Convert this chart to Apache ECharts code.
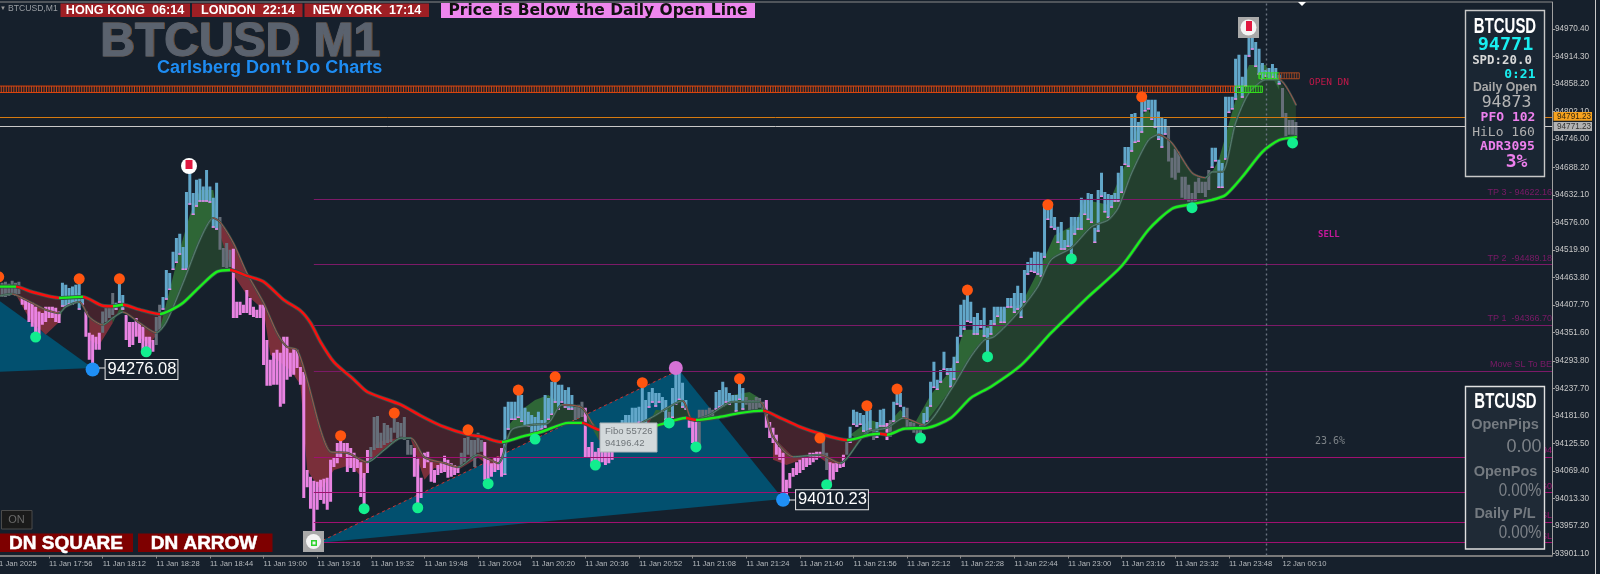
<!DOCTYPE html>
<html><head><meta charset="utf-8">
<style>html,body{margin:0;padding:0;background:#16202c}#c{width:1600px;height:574px}</style>
<script src="https://cdn.jsdelivr.net/npm/echarts@6/dist/echarts.min.js"></script>
</head><body><div id="c"></div>
<script>
const BASE = 94000;
const timeLabels = ["11 Jan 2025","11 Jan 17:56","11 Jan 18:12","11 Jan 18:28","11 Jan 18:44","11 Jan 19:00","11 Jan 19:16","11 Jan 19:32","11 Jan 19:48","11 Jan 20:04","11 Jan 20:20","11 Jan 20:36","11 Jan 20:52","11 Jan 21:08","11 Jan 21:24","11 Jan 21:40","11 Jan 21:56","11 Jan 22:12","11 Jan 22:28","11 Jan 22:44","11 Jan 23:00","11 Jan 23:16","11 Jan 23:32","11 Jan 23:48","12 Jan 00:10"];
const priceTicks = [94970.40,94914.30,94858.20,94802.10,94746.00,94688.20,94632.10,94576.00,94519.90,94463.80,94407.70,94351.60,94293.80,94237.70,94181.60,94125.50,94069.40,94013.30,93957.20,93901.10];
const barStart = 2;
const barHighs = [453,455,451,457,453,455,422,418,414,412,
404,394,391,404,404,404,402,394,453,449,
442,445,449,459,424,394,351,347,343,351,
394,404,404,432,412,459,428,387,373,373,
381,371,363,343,343,336,383,408,424,479,
473,516,544,553,526,638,689,636,663,665,
649,683,649,626,657,587,524,534,520,522,
414,414,408,438,422,404,398,408,408,336,
296,310,316,310,343,343,310,320,316,281,
271,71,57,49,47,51,53,55,92,96,
126,139,126,126,116,106,96,87,65,112,
118,179,181,147,167,163,157,187,169,167,
179,132,122,116,94,55,106,108,87,71,
81,87,100,92,85,81,77,106,136,139,
132,132,147,132,128,92,85,96,98,116,
200,210,210,210,224,224,198,190,183,179,
190,173,224,218,251,259,245,245,234,240,
224,200,204,210,198,118,128,108,116,132,
132,132,153,163,163,173,183,183,198,198,
200,238,214,230,238,228,228,220,214,190,
238,271,269,249,214,173,173,169,194,194,
194,198,194,230,234,251,240,228,224,224,
255,238,220,214,214,220,218,210,214,169,
157,143,118,106,51,65,75,87,92,96,
96,106,106,108,108,136,106,87,85,87,
87,102,128,159,194,190,187,183,200,194,
153,169,194,196,167,173,210,234,228,200,
198,169,167,157,163,187,200,251,292,255,
275,312,279,279,302,343,408,418,434,414,
383,391,377,402,361,377,404,404,404,404,
422,422,432,447,432,479,495,504,516,516,
514,612,608,608,587,567,577,540,561,587,
587,587,626,622,636,634,565,642,677,638,
634,632,636,677,691,730,730,797,799,781,
830,828,826,826,826,802,789,787,771,708,
726,720,669,669,653,636,659,667,659,659,
683,728,728,704,697,832,832,832,910,918,
873,918,973,969,944,930,901,887,891,899,
891,877,850,799,785,785,781];
const barLows = [424,424,426,428,426,430,408,398,373,363,
343,347,367,373,381,381,373,371,404,404,
408,408,412,398,408,343,296,275,316,316,
351,373,381,387,398,412,398,336,322,326,
343,330,316,306,316,312,326,357,398,418,
438,479,493,510,479,479,612,591,608,618,
618,618,616,565,561,520,485,483,485,381,
381,387,391,391,387,383,381,381,285,243,
243,245,245,200,206,255,261,265,279,245,
14,36,-8,-57,-10,10,2,-10,6,77,
85,96,106,67,75,67,75,16,0,65,
92,112,116,116,122,126,128,147,136,139,
132,102,102,57,-4,14,75,87,47,45,
61,65,67,55,57,61,65,81,87,102,
96,77,106,108,51,51,57,67,71,57,
61,153,173,173,177,169,159,159,143,139,
149,153,157,173,183,208,194,208,198,194,
194,173,177,179,96,96,81,75,85,87,
81,85,92,122,132,132,153,153,163,157,
167,167,163,198,208,200,208,190,173,163,
177,204,214,198,194,157,126,116,118,173,
173,177,177,194,198,200,208,204,208,190,
214,194,204,190,194,194,198,190,157,136,
126,102,92,10,16,34,57,61,65,71,
77,81,87,92,98,98,71,41,51,67,
75,77,102,126,163,159,163,149,139,153,
132,136,159,159,132,139,169,204,200,177,
157,153,147,136,143,153,169,200,238,234,
249,275,265,240,255,289,343,357,373,371,
347,347,361,343,302,347,367,383,371,371,
402,402,391,398,381,412,469,475,473,469,
465,504,581,565,561,534,520,520,526,510,
551,561,561,591,581,575,534,557,628,596,
585,606,618,618,636,693,689,720,738,740,
759,802,806,785,769,744,728,755,700,667,
663,677,626,622,618,618,618,636,636,628,
642,687,700,646,646,704,799,806,826,850,
830,853,914,928,893,877,867,873,867,871,
867,857,791,751,755,755,751];
const barKindRuns = [["g",6],["p",12],["b",7],["p",5],["g",4],["b",3],["p",9],["g",2],["b",17],["g",4],["p",41],["g",13],["p",14],["g",7],["p",6],["b",21],["g",3],["p",10],["b",15],["g",1],["b",5],["p",3],["g",5],["b",9],["g",6],["p",17],["g",2],["p",5],["g",1],["b",7],["g",1],["b",3],["p",1],["g",1],["b",4],["g",5],["b",73],["g",13],["b",21],["g",5]];
const slowMA = [[0,445],[6,445],[11,434],[19,422],[26,424],[32,406],[35,405],[38,408],[43,398],[49,389],[52,396],[56,412],[61,445],[66,475],[70,479],[75,467],[80,455],[86,418],[91,396],[94,371],[97,332],[101,291],[107,255],[111,230],[121,204],[127,181],[133,161],[141,143],[145,139],[151,128],[157,139],[163,149],[171,167],[175,167],[180,153],[187,150],[197,161],[206,177],[209,173],[216,179],[222,187],[229,192],[233,181],[240,159],[246,145],[254,132],[261,143],[264,145],[266,143],[271,155],[278,157],[285,177],[291,218],[297,241],[306,285],[315,351],[321,391],[326,424],[336,487],[344,561],[351,604],[356,612],[363,622],[367,632],[372,669],[378,720],[383,744],[388,750]];
const fastMA = [[0,424],[5,430],[8,422],[12,408],[15,398],[19,391],[21,404],[25,414],[28,383],[32,367],[35,381],[38,393],[43,371],[48,351],[51,373],[56,453],[61,540],[65,585],[67,577],[71,534],[75,473],[80,412],[84,351],[87,322],[90,316],[93,255],[97,153],[100,108],[105,106],[111,87],[116,112],[121,136],[124,136],[128,97],[134,85],[138,77],[144,102],[150,85],[154,153],[160,163],[165,167],[169,204],[175,198],[180,153],[190,159],[196,179],[205,212],[208,173],[213,183],[220,210],[228,210],[232,139],[238,98],[246,102],[252,85],[258,132],[260,149],[266,157],[271,177],[277,163],[285,234],[291,302],[295,336],[298,343],[305,391],[311,445],[315,500],[321,524],[327,567],[332,581],[335,606],[339,677],[344,744],[347,755],[351,738],[357,677],[361,667],[363,679],[366,679],[370,779],[374,840],[379,867],[383,867],[388,816]];
const bandMA = [[0,426],[6,430],[10,381],[15,347],[19,373],[21,418],[25,434],[28,336],[31,326],[35,371],[38,414],[42,347],[46,326],[49,357],[52,438],[55,520],[58,591],[61,642],[65,642],[67,551],[71,469],[75,428],[80,398],[82,306],[88,275],[91,245],[93,71],[97,30],[101,71],[106,81],[110,51],[113,122],[116,132],[121,136],[124,132],[128,51],[131,75],[134,71],[138,71],[144,96],[147,81],[150,71],[152,153],[157,194],[161,214],[165,224],[169,204],[175,194],[180,132],[190,108],[197,194],[201,190],[205,224],[208,153],[213,183],[220,224],[225,230],[228,218],[232,92],[236,81],[243,98],[246,96],[249,81],[252,87],[255,143],[261,173],[266,163],[270,194],[274,163],[279,224],[285,275],[289,357],[295,357],[300,398],[306,408],[312,489],[316,550],[322,571],[325,622],[332,612],[337,693],[342,795],[344,806],[349,755],[353,683],[358,683],[362,693],[365,704],[370,826],[374,897],[379,897],[383,846],[388,785]];
const outerZones = [[0,52,"r"],[52,75,"g"],[75,154,"r"],[151,180,"g"],[180,230,"g"],[229,258,"r"],[254,388,"g"]];
const innerZones = [[6,20,"r"],[19,27,"g"],[27,36,"r"],[35,41,"g"],[40,50,"r"],[49,68,"g"],[67,121,"r"],[124,151,"r"],[151,180,"g"],[180,196,"r"],[195,208,"g"],[213,229,"g"],[229,255,"r"],[255,347,"g"],[363,384,"g"]];
const fiboTriangles = [[[0,422],[29,279],[0,271]],[[96,-78],[204,275],[235,12]]];
const fiboEdge = [[96,-78],[204,275]];
const dotsOrange = [[1,465],[25,461],[37,461],[103,141],[119,187],[141,153],[156,234],[167,261],[193,249],[222,257],[246,136],[260,202],[269,236],[290,438],[314,612],[342,832]];
const dotsGreen = [[12,342],[45,312],[110,-8],[126,-6],[147,43],[161,134],[179,81],[201,167],[209,118],[248,41],[276,136],[296,302],[321,502],[357,606],[387,738]];
const dotsBlue = [[29,276.08],[235,10.23]];
const dotPink = [[203,279]];
const levelLines = [[623,"TP 3 - 94622.16","#7c1a68"],[490,"TP 2  -94489.18","#7c1a68"],[367,"TP 1  -94366.70","#7c1a68"],[273,"Move SL To BE","#7c1a68"],[97,"94","#a01070"],[25,"G0","#a01070"],[-36,"SL","#a01070"],[-77,"SL","#a01070"]];
const openZones = [[1,370,854,841,"#e2480f"],[370,378,854,841,"#35e01c"],[377,383,881,869,"#35e01c"],[383,389,881,869,"#a84a22"]];
const dailyOpenOrange = 94791.23, bidPrice = 94771.23;

const C = {b:"#62a7ca",p:"#e983e2",g:"#666e79"};
const kinds = [];
barKindRuns.forEach(r=>{for(let n=0;n<r[1];n++)kinds.push(r[0]);});
const barData = barHighs.map((h,n)=>[n+barStart,h+BASE,barLows[n]+BASE,n]);
const withBase = a=>a.map(k=>[k[0],k[1]+BASE]);

const series = [], visualMaps = [];
function maLine(knots,up,down,width,z){
  const pieces=[];
  knots.slice(0,-1).forEach((k,n)=>{
    const color=knots[n+1][1]>=k[1]?up:down, last=pieces[pieces.length-1];
    if(last&&last.color===color)last.lt=knots[n+1][0];
    else pieces.push({gte:k[0],lt:knots[n+1][0],color});
  });
  pieces[pieces.length-1].lt=knots[knots.length-1][0]+1;
  if(up!==down)visualMaps.push({show:false,type:"piecewise",dimension:0,seriesIndex:series.length,pieces});
  const lineStyle={width,cap:"round",join:"round"};
  if(up===down)lineStyle.color=up;
  series.push({type:"line",z,data:withBase(knots),smooth:0.25,symbol:"none",silent:true,animation:false,lineStyle});
}
function zoneSeries(upper,lower,zones,colG,colR,z){
  return {type:"custom",z,clip:true,silent:true,animation:false,encode:{x:0,y:1},
    data:zones.map((o,n)=>[o[0],BASE+500,n]),
    renderItem:(p,api)=>{
      const o=zones[api.value(2)];
      const s=k=>k[0]>=o[0]&&k[0]<=o[1];
      const pts=upper.filter(s).concat(lower.filter(s).reverse()).map(k=>api.coord([k[0],k[1]+BASE]));
      return {type:"polygon",shape:{points:pts},style:{fill:o[2]==="g"?colG:colR,stroke:null}};
    }};
}
// fibo triangles
series.push({type:"custom",z:1,clip:true,silent:true,animation:false,encode:{x:0,y:1},
  data:fiboTriangles.map((t,n)=>[t[0][0],t[0][1]+BASE,n]),
  renderItem:(p,api)=>({type:"polygon",shape:{points:fiboTriangles[api.value(2)].map(k=>api.coord([k[0],k[1]+BASE]))},style:{fill:"#02506f"}})});
series.push(zoneSeries(slowMA,fastMA,outerZones,"#233f2e","#43232d",2));
series.push(zoneSeries(fastMA,bandMA,innerZones,"#2e6636","#7a2f3a",2.5));
// levels
series.push({type:"line",z:3,data:[],silent:true,animation:false,
  markLine:{silent:true,symbol:"none",animation:false,precision:2,
    data:levelLines.map(l=>[
      {coord:[95,l[0]+BASE],lineStyle:{color:l[2],width:1.2,type:"solid"},
       label:{formatter:l[1],position:"insideEndTop",distance:[0,2],color:l[2],fontFamily:"Liberation Sans",fontSize:9}},
      {coord:[464.4,l[0]+BASE]}])
    .concat([
      [{coord:[0,dailyOpenOrange],lineStyle:{color:"#d67a10",width:1,type:"solid"},label:{show:false}},{coord:[464.4,dailyOpenOrange]}],
      [{coord:[0,bidPrice],lineStyle:{color:"#c8c8c8",width:1,type:"solid"},label:{show:false}},{coord:[464.4,bidPrice]}],
      [{coord:[379,93896.6],lineStyle:{color:"#6b7480",width:1.4,type:[2,3]},label:{show:false}},{coord:[379,95025.5]}]
    ])}});
// dashed fibo edge
series.push({type:"line",z:3,data:withBase(fiboEdge),symbol:"none",silent:true,animation:false,lineStyle:{color:"#c93434",width:1,type:[3,3]}});
// bars
series.push({type:"custom",z:4,clip:true,silent:true,animation:false,encode:{x:0,y:[1,2]},data:barData,
  renderItem:(p,api)=>{
    const hi=api.coord([api.value(0),api.value(1)]),lo=api.coord([api.value(0),api.value(2)]);
    const k=kinds[api.value(3)],w=3;
    const ch=[{type:"rect",shape:{x:hi[0]-w/2,y:hi[1],width:w,height:lo[1]-hi[1]},style:{fill:C[k]}}];
    if(k==="b")ch.push({type:"rect",shape:{x:hi[0]-w/2,y:lo[1]-1.5,width:w,height:1.5},style:{fill:C.p}});
    return {type:"group",children:ch};
  }});
// moving averages
maLine(fastMA,"#37564a","#37564a",2.2,5);
maLine(fastMA,"#5c8474","#b2514c",0.9,5.1);
maLine(slowMA,"#33504a","#33504a",4,6);
maLine(slowMA,"#1cf01c","#fa0f0f",2.4,6.1);
// open zones
series.push({type:"custom",z:6.5,clip:true,silent:true,animation:false,encode:{x:0,y:2},
  data:openZones.map((o,n)=>[o[0],o[1],o[2]+BASE,o[3]+BASE,n]),
  renderItem:(p,api)=>{
    const a=api.value(0),b=api.value(1),c=openZones[api.value(4)][4];
    const t=api.value(2),d=api.value(3),ch=[];
    const A=api.coord([a,t]),B=api.coord([b,d]);
    ch.push({type:"rect",shape:{x:A[0],y:A[1],width:B[0]-A[0],height:B[1]-A[1]},style:{fill:"none",stroke:c,lineWidth:1}});
    for(let v=a;v<b;v+=0.75){const q=api.coord([v,t]),r=api.coord([v,d]);
      ch.push({type:"line",shape:{x1:q[0],y1:q[1],x2:r[0],y2:r[1]},style:{stroke:c,lineWidth:0.9}});}
    return {type:"group",children:ch};
  }});
// dots
const dots=(d,color,size)=>({type:"scatter",z:7,data:withBase(d),symbolSize:size,silent:true,animation:false,itemStyle:{color,opacity:1}});
series.push(dots(dotsOrange,"#ff5510",11));
series.push(dots(dotsGreen,"#12ee8e",11));
series.push(dots(dotPink,"#d572d5",14));
series.push({type:"scatter",z:7,data:withBase(dotsBlue),symbolSize:14,silent:true,animation:false,itemStyle:{color:"#1f8ff5",opacity:1},
  label:{show:true,position:"right",distance:6,color:"#fff",fontFamily:"Liberation Sans",fontSize:16.5,backgroundColor:"#16202c",borderColor:"#e8e8e8",borderWidth:1,padding:[1,1,1,2],
    formatter:p=>p.value[1].toFixed(2)}});

const T=(text,x,y,font,fill,align,sx,extra)=>({type:"text",z:120,silent:true,x,y,scaleX:sx||1,
  style:Object.assign({text,x:0,y:0,font,fill,textAlign:align||"left",textVerticalAlign:"middle"},extra||{})});
const R=(x,y,w,h,fill,stroke,lw,z)=>({type:"rect",z:z||110,silent:true,shape:{x,y,width:w,height:h},style:{fill,stroke:stroke||null,lineWidth:lw||0}});
const Ci=(cx,cy,r,fill)=>({type:"circle",z:115,silent:true,shape:{cx,cy,r},style:{fill}});
const Li=(x1,y1,x2,y2,stroke,lw)=>({type:"line",z:105,silent:true,shape:{x1,y1,x2,y2},style:{stroke,lineWidth:lw||1}});
const mono='"DejaVu Sans Mono"', ari='"Liberation Sans"';
const tickFont="8.2px "+ari;
const g=[
 Li(0,2,1552,2,"#8a8a8a",1),
 T("▼",0,8,"6px "+ari,"#9a9a9a"),
 T("BTCUSD,M1",8,8.5,"8.6px "+ari,"#9a9ea3"),
 R(60.5,3.5,129.5,13.5,"#9e1f24"),R(192,3.5,110.5,13.5,"#9e1f24"),R(304.5,3.5,124.5,13.5,"#9e1f24"),
 T("HONG KONG  06:14",125,10.5,"bold 12.6px "+ari,"#fff","center"),
 T("LONDON  22:14",248,10.5,"bold 12.6px "+ari,"#fff","center"),
 T("NEW YORK  17:14",367,10.5,"bold 12.6px "+ari,"#fff","center"),
 R(441,3,314,15,"#ee86ee"),
 T("Price is Below the Daily Open Line",598,10.5,"bold 15.5px \"DejaVu Sans\"","#111","center"),
 T("BTCUSD M1",101,43.2,"bold 48px "+ari,"#6a4a30","left",1,{stroke:"#6a4a30",lineWidth:1}),
 T("BTCUSD M1",100,42.5,"bold 48px "+ari,"#5a626e","left",1,{stroke:"#5a626e",lineWidth:1}),
 T("Carlsberg Don't Do Charts",157,68,"bold 18px "+ari,"#1e8cf2"),
 T("OPEN DN",1309,82.5,"9.5px "+mono,"#c2184a"),
 T("SELL",1318,234.5,"bold 9px "+mono,"#c5189a"),
 T("23.6%",1315,441,"10px "+mono,"#7d8388"),
 R(1.5,510.5,30.5,18.5,"#1a1a1a","#4a4a4a",1),
 T("ON",16.5,520,"11px "+ari,"#6a6a6a","center"),
 R(0,533.5,133,18.5,"#7e0000"),R(138,533.5,134.5,18.5,"#7e0000"),
 T("DN SQUARE",66,543.5,"bold 19px "+ari,"#fff","center","",{stroke:"#fff",lineWidth:0.5}),
 T("DN ARROW",204,543.5,"bold 19px "+ari,"#fff","center","",{stroke:"#fff",lineWidth:0.5}),
 // fibo info box
 R(600,423,57,29,"#d3d9db","#aab2b6",1),
 T("Fibo 55726",605,431,"9.5px "+ari,"#6f7579"),
 T("94196.42",605,443,"9.5px "+ari,"#6f7579"),
 // connector lines from swing dots to their labels
 Li(99,368,105,368,"#e8e8e8",1),Li(789,500,795,500,"#e8e8e8",1),
 // icons
 Ci(189,166,8,"#fff"),R(185.5,160,7,9,"#e01840",null,0,118),
 R(303,531,21,21,"#a9a9a9"),Ci(313.5,541.5,7.5,"#f3f3f3"),R(311,540,6,6,"#2dd12d",null,0,118),R(312.5,541.5,3,3,"#f3f3f3",null,0,119),
 R(1238,17,21,21,"#a9a9a9"),Ci(1248.5,27.5,8,"#f5f5f5"),R(1246,21,6,10,"#e01840",null,0,118),
 {type:"polygon",z:115,silent:true,shape:{points:[[1298,2],[1306,2],[1302,6]]},style:{fill:"#fff"}},
 // price tags
 R(1553.5,112,38.5,8.8,"#f5a11e"),T("94791.23",1557,116.5,tickFont,"#33260f"),
 R(1553.5,122,38.5,9,"#b2b2b2"),T("94771.23",1557,126.5,tickFont,"#333"),
 Li(1595.5,0,1595.5,574,"#c8c8c8",1),
 // panel 1
 R(1465.5,10.5,79,166,"#1a2633","#c8c8c8",1.4),
 T("BTCUSD",1505,27,"bold 22px "+ari,"#fff","center",0.68),
 T("94771",1505.5,45.5,"bold 18.5px "+mono,"#19eef0","center"),
 T("SPD:20.0",1502,61,"bold 12.4px "+mono,"#d8d8d8","center"),
 T("0:21",1535.5,75,"bold 13px "+mono,"#19eef0","right"),
 T("Daily Open",1505,88,"bold 12.3px "+ari,"#a8a8a8","center"),
 T("94873",1506.5,102.5,"16.5px "+mono,"#b5b5b5","center"),
 T("PFO 102",1508,118,"bold 13px "+mono,"#ee80ee","center"),
 T("HiLo 160",1503.5,132.5,"13px "+mono,"#b0b0b0","center"),
 T("ADR3095",1507.5,147,"bold 13px "+mono,"#ee80ee","center"),
 T("3%",1516.5,162.5,"bold 18px "+mono,"#ee80ee","center"),
 // panel 2
 R(1465.5,386.5,79,162.5,"#1f2a36","#e0e0e0",1.4),
 T("BTCUSD",1505.5,402,"bold 22px "+ari,"#fff","center",0.68),
 T("OpenPips",1505,425,"bold 14.5px "+ari,"#747a80","center"),
 T("0.00",1541.5,447,"18px "+ari,"#7d8288","right"),
 T("OpenPos",1505.5,472,"bold 14.5px "+ari,"#747a80","center"),
 T("0.00%",1541.5,491,"18px "+ari,"#7d8288","right",0.84),
 T("Daily P/L",1505,514,"bold 14.5px "+ari,"#747a80","center"),
 T("0.00%",1541.5,533,"18px "+ari,"#7d8288","right",0.84),
];
const tickPos = timeLabels.map((_,n)=>n*16);
const option = {
  backgroundColor:"#16202c",animation:false,
  grid:{left:-4.6,right:48,top:2,bottom:18.5,containLabel:false,outerBoundsMode:"none"},
  visualMap:visualMaps,
  xAxis:{type:"value",min:0,max:464.4,splitLine:{show:false},
    axisLine:{show:true,onZero:false,lineStyle:{color:"#7a7a7a",width:2}},
    axisTick:{show:true,length:3,inside:false,customValues:tickPos,lineStyle:{color:"#8a8a8a"}},
    axisLabel:{customValues:tickPos,align:"left",margin:4,color:"#b5b9bd",fontFamily:"Liberation Sans",fontSize:7.6,hideOverlap:false,
      formatter:v=>timeLabels[Math.round(v/16)]||""}},
  yAxis:{type:"value",position:"right",min:93896.6,max:95025.5,splitLine:{show:false},
    axisLine:{show:true,onZero:false,lineStyle:{color:"#a0a0a0",width:1}},
    axisTick:{show:true,length:3,customValues:priceTicks,lineStyle:{color:"#a0a0a0"}},
    axisLabel:{customValues:priceTicks,margin:3,color:"#c8c8c8",fontFamily:"Liberation Sans",fontSize:8.2,hideOverlap:false,
      formatter:v=>v.toFixed(2)}},
  series,graphic:{elements:g}
};
echarts.init(document.getElementById("c"),null,{renderer:"canvas"}).setOption(option);
</script></body></html>
